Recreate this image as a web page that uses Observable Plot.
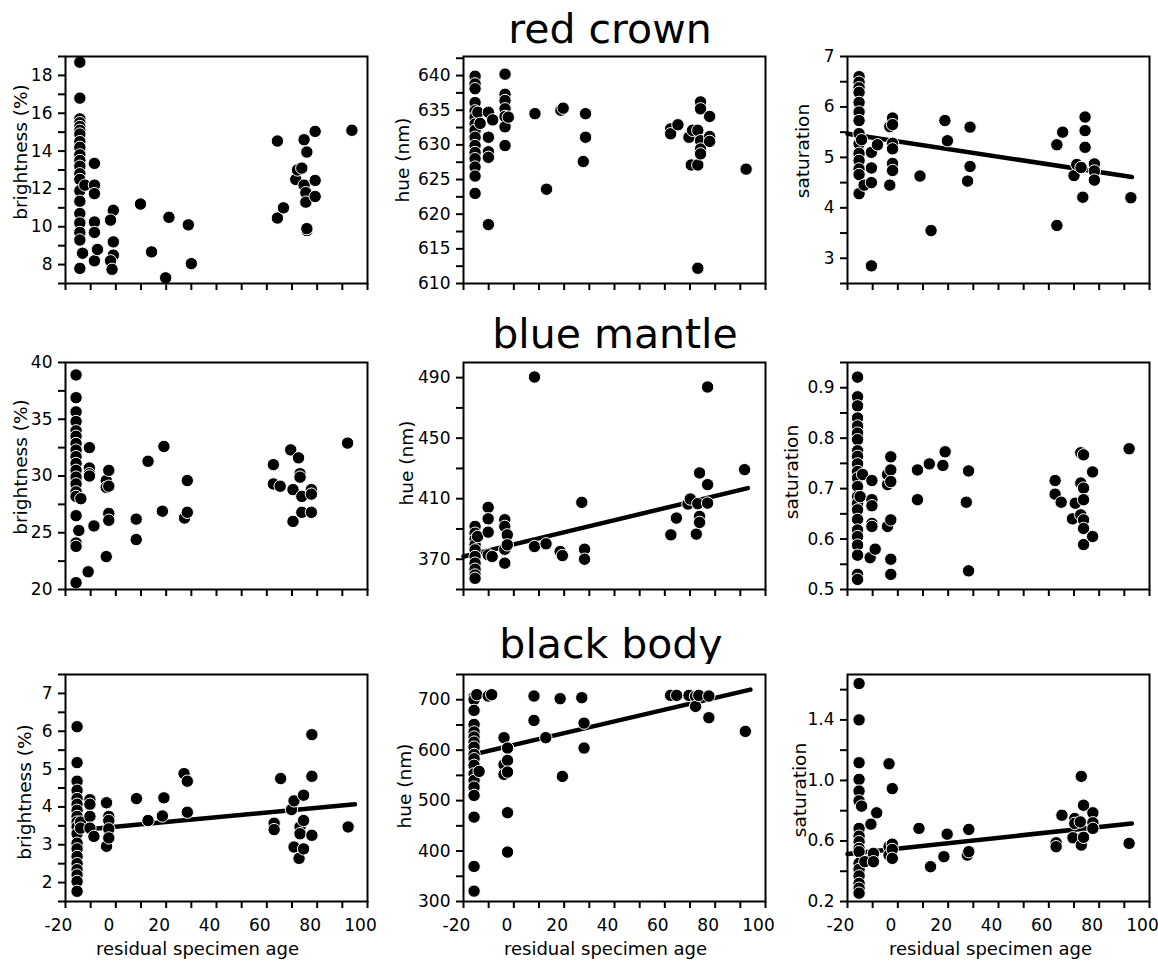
<!DOCTYPE html>
<html>
<head>
<meta charset="utf-8">
<script src="https://cdn.jsdelivr.net/npm/d3@7"></script>
<script src="https://cdn.jsdelivr.net/npm/@observablehq/plot@0.6"></script>
<style>
  html, body { margin: 0; padding: 0; background: #fff; }
  #root { position: relative; width: 1158px; height: 966px; font-family: "DejaVu Sans", Verdana, sans-serif; color: #000; }
  .title { position: absolute; width: 400px; text-align: center; font-size: 41px; line-height: 41px; white-space: nowrap; }
  .panel { position: absolute; }
</style>
</head>
<body>
<div id="root"></div>
<script>
// ---------- shared x axis (residual specimen age) ----------
const ageTicks = [-20, -10, 0, 10, 20, 30, 40, 50, 60, 70, 80, 90, 100];
const ageTickLabels = [-20, 0, 20, 40, 60, 80, 100];
const xTitle = "residual specimen age";
const rowTitles = ["red crown", "blue mantle", "black body"];
const yTitles = ["brightness (%)", "hue (nm)", "saturation"];

// ---------- red crown : [age, value] ----------
const crownBrightness = [
  [-14.3,18.7],[-14.3,16.8],[-14.3,15.7],[-14.3,15.5],[-14.3,15.3],[-14.3,15.1],[-14.3,14.9],[-14.3,14.5],[-14.3,14.2],[-14.3,13.8],
  [-14.3,13.5],[-14.3,13.2],[-14.3,12.8],[-14.3,12.5],[-14.3,11.9],[-14.3,11.35],[-14.3,10.7],[-14.3,10.2],[-14.3,9.7],[-14.3,9.3],[-14.3,7.8],
  [-12.3,12.2],[-13.2,8.6],
  [-8.5,13.35],[-8.5,12.2],[-8.5,11.75],[-8.5,10.25],[-8.5,9.7],[-8.5,8.2],[-7.3,8.8],
  [-1.0,10.87],[-2.1,10.35],[-1.0,9.2],[-1.0,8.5],[-2.1,8.2],[-1.5,7.75],
  [9.8,11.2],[14.2,8.67],[19.8,7.3],[21.1,10.5],[28.8,10.1],[30.0,8.05],
  [64.2,14.53],[64.2,10.46],[66.6,11.0],[71.5,12.5],[72.2,13.0],[73.9,13.1],[74.8,14.6],[74.8,12.2],
  [75.5,11.8],[75.5,11.3],[75.9,13.95],[75.9,9.8],[75.9,9.9],[79.2,15.04],[79.2,12.45],[79.2,11.6],[93.8,15.1]
];
const crownHue = [
  [-15.4,639.9],[-15.4,638.8],[-15.4,638.1],[-15.4,636.1],[-15.4,634.9],[-15.4,634.0],[-15.4,633.0],[-15.4,632.1],[-15.4,631.1],
  [-15.4,629.9],[-15.4,628.9],[-15.4,628.0],[-15.4,626.8],[-15.4,625.5],[-15.4,623.0],
  [-14.3,634.7],[-13.4,633.1],
  [-10.1,634.7],[-10.1,631.1],[-10.1,629.0],[-10.1,628.2],[-10.1,618.5],[-8.4,633.6],
  [-3.5,640.2],[-3.5,637.3],[-3.5,636.4],[-3.5,635.2],[-3.5,634.1],[-3.5,632.6],[-3.5,629.9],[-2.2,634.0],
  [8.4,634.5],[13.0,623.6],[18.7,635.0],[19.6,635.3],[27.6,627.6],[28.5,634.5],[28.5,631.1],
  [62.3,632.3],[62.3,631.6],[65.2,632.9],[69.6,631.1],[71.0,632.1],[70.5,627.1],[73.1,632.1],[73.1,627.1],[73.1,612.2],
  [74.2,636.2],[74.2,635.2],[74.2,630.6],[74.2,629.4],[74.2,628.7],[77.8,634.1],[77.8,631.2],[77.8,630.5],[92.3,626.5]
];
const crownSaturation = [
  [-15.4,6.6],[-15.4,6.49],[-15.4,6.38],[-15.4,6.29],[-15.4,6.09],[-15.4,5.9],[-15.4,5.73],[-15.4,5.47],[-15.4,5.27],
  [-15.4,5.08],[-15.4,4.94],[-15.4,4.77],[-15.4,4.66],[-15.4,4.28],
  [-14.4,5.35],[-13.4,4.45],
  [-10.5,5.1],[-10.5,4.79],[-10.5,4.5],[-10.5,2.85],[-8.1,5.25],
  [-3.2,5.61],[-3.2,4.45],[-2.1,5.78],[-2.1,5.65],[-2.1,5.28],[-2.1,5.17],[-2.1,4.88],[-2.1,4.74],
  [8.8,4.63],[13.2,3.55],[18.7,5.73],[19.7,5.33],[27.7,4.53],[28.7,5.6],[28.7,4.82],
  [63.2,5.25],[63.2,3.65],[65.5,5.5],[70.0,4.64],[71.1,4.86],[72.8,4.8],[73.5,4.21],[74.4,5.8],[74.4,5.53],[74.4,5.2],
  [78.1,4.87],[78.1,4.73],[78.1,4.55],[92.6,4.2]
];
const crownSaturationFit = [[-20, 5.47], [93, 4.61]];

// ---------- blue mantle : [age, value] ----------
const mantleBrightness = [
  [-15.8,38.9],[-15.8,36.9],[-15.8,35.65],[-15.8,34.8],[-15.8,33.98],[-15.8,33.5],[-15.8,32.86],[-15.8,32.28],[-15.8,31.7],
  [-15.8,31.1],[-15.8,30.5],[-15.8,29.9],[-15.8,29.3],[-15.8,28.6],[-15.8,28.2],[-15.8,26.5],[-15.8,24.1],[-15.8,23.8],[-15.8,20.6],
  [-14.7,25.2],[-13.9,28.0],
  [-10.5,32.5],[-10.5,30.7],[-10.5,30.2],[-10.5,30.0],[-11.0,21.56],[-8.7,25.6],
  [-3.8,22.9],[-3.8,29.6],[-3.8,29.0],[-2.8,30.5],[-2.8,29.1],[-2.8,26.7],[-2.8,26.1],
  [8.1,26.2],[8.1,24.4],[12.8,31.3],[18.5,26.9],[19.1,32.6],[27.3,26.3],[28.4,29.6],[28.4,26.8],
  [62.6,31.0],[62.6,29.3],[65.3,29.1],[69.5,32.3],[70.4,28.8],[70.4,26.0],[72.6,31.6],[73.2,30.2],[73.2,29.9],
  [73.9,28.2],[73.9,26.8],[77.7,28.8],[77.7,28.4],[77.7,26.8],[92.1,32.9]
];
const mantleHue = [
  [-15.4,391.7],[-15.4,387.2],[-15.4,383.3],[-15.4,379.5],[-15.4,376.2],[-15.4,371.8],[-15.4,367.4],[-15.4,363.4],[-15.4,359.6],[-15.4,357.4],
  [-14.4,385.0],
  [-10.2,404.3],[-10.2,396.7],[-10.2,387.9],[-10.2,372.9],[-8.6,371.8],
  [-3.6,396.1],[-3.6,391.7],[-3.6,376.6],[-3.6,367.4],[-2.6,386.1],[-2.6,379.5],
  [8.2,490.4],[8.2,378.4],[12.8,380.2],[18.4,375.1],[19.3,372.4],[27.0,407.6],[28.1,376.6],[28.1,370.0],
  [62.4,386.1],[64.6,397.2],[69.2,406.5],[70.1,409.8],[72.5,386.6],[73.1,406.7],[73.8,427.0],[73.8,398.3],[73.8,394.3],
  [77.0,483.8],[77.0,419.3],[77.0,407.1],[91.7,429.2]
];
const mantleHueFit = [[-20, 371.8], [93, 417.0]];
const mantleSaturation = [
  [-16,0.921],[-16,0.882],[-16,0.864],[-16,0.84],[-16,0.824],[-16,0.81],[-16,0.797],[-16,0.775],[-16,0.764],[-16,0.749],
  [-16,0.734],[-16,0.721],[-16,0.704],[-16,0.684],[-16,0.671],[-16,0.658],[-16,0.639],[-16,0.618],[-16,0.605],[-16,0.588],
  [-16,0.568],[-16,0.53],[-16,0.52],
  [-14,0.728],[-15,0.684],[-11,0.563],[-10.3,0.716],[-10.3,0.678],[-10.3,0.666],[-10.3,0.631],[-10.3,0.625],[-9,0.58],
  [-4.1,0.708],[-4.1,0.728],[-4.1,0.625],[-2.8,0.763],[-2.8,0.737],[-2.8,0.714],[-2.8,0.638],[-2.8,0.56],[-2.8,0.53],
  [7.8,0.737],[7.8,0.678],[12.5,0.749],[17.9,0.746],[18.8,0.773],[27.2,0.673],[28.1,0.735],[28.1,0.537],
  [62.5,0.716],[62.5,0.689],[64.9,0.673],[69.4,0.64],[70.5,0.671],[72.7,0.771],[72.7,0.711],[72.7,0.648],
  [73.8,0.767],[73.8,0.701],[73.8,0.678],[73.8,0.638],[73.8,0.621],[73.8,0.589],[77.4,0.733],[77.4,0.605],[91.9,0.779]
];

// ---------- black body : [age, value] ----------
const bodyBrightness = [
  [-15.4,6.12],[-15.4,5.17],[-15.4,4.68],[-15.4,4.44],[-15.4,4.22],[-15.4,4.07],[-15.4,3.91],[-15.4,3.75],[-15.4,3.6],[-15.4,3.47],
  [-15.4,3.29],[-15.4,3.04],[-15.4,2.89],[-15.4,2.69],[-15.4,2.5],[-15.4,2.34],[-15.4,2.2],[-15.4,2.03],[-15.4,1.77],
  [-14,3.6],[-14,3.44],[-10.3,4.19],[-10.3,4.07],[-10.3,3.75],[-10.3,3.44],[-8.7,3.22],
  [-3.7,4.11],[-3.7,2.96],[-2.8,3.75],[-2.8,3.64],[-2.8,3.42],[-2.8,3.18],
  [8.2,4.22],[12.8,3.64],[18.5,3.76],[19.1,4.24],[27.1,4.88],[28.4,4.68],[28.4,3.86],
  [62.9,3.57],[62.9,3.4],[65.5,4.75],[69.8,3.93],[70.8,4.16],[70.8,2.94],[72.8,2.64],[73.2,3.47],[73.2,3.29],
  [74.6,4.31],[74.6,3.64],[74.6,2.89],[77.9,5.91],[77.9,4.81],[77.9,3.25],[92.3,3.47]
];
const bodyBrightnessFit = [[-16, 3.375], [95, 4.07]];
const bodyHue = [
  [-15.8,705.3],[-15.8,700],[-15.8,678.9],[-15.8,651],[-15.8,636],[-15.8,626],[-15.8,616],[-15.8,606],[-15.8,591.6],
  [-15.8,583],[-15.8,570],[-15.8,553],[-15.8,540],[-15.8,526.8],[-15.8,510.3],[-15.8,467.3],[-15.8,369.5],[-15.8,320.6],
  [-14.7,710],[-13.8,557.9],[-10.2,707.3],[-8.8,710],
  [-3.9,624.7],[-3.9,571.1],[-3.9,552],[-2.5,604.2],[-2.5,579.7],[-2.5,556.6],[-2.5,476],[-2.5,398],
  [8.0,707.3],[8.0,659],[12.7,624.7],[18.4,702],[19.3,548],[27.0,704],[27.9,653.7],[27.9,604.2],
  [62.3,708.6],[64.7,708.6],[69.6,708.6],[72.2,706.6],[72.2,686.8],[73.5,708.6],[77.5,707.3],[77.5,664.3],[92.0,637.2]
];
const bodyHueFit = [[-16, 591.7], [94, 720]];
const bodySaturation = [
  [-15.4,1.64],[-15.4,1.4],[-15.4,1.117],[-15.4,1.007],[-15.4,0.93],[-15.4,0.865],[-15.4,0.683],[-15.4,0.632],[-15.4,0.595],
  [-15.4,0.551],[-15.4,0.529],[-15.4,0.452],[-15.4,0.413],[-15.4,0.369],[-15.4,0.32],[-15.4,0.288],[-15.4,0.255],
  [-14.4,0.83],[-13.1,0.463],[-10.7,0.711],[-9.7,0.518],[-9.7,0.463],[-8.4,0.786],
  [-3.5,1.11],[-3.5,0.562],[-3.5,0.507],[-2.2,0.946],[-2.2,0.579],[-2.2,0.544],[-2.2,0.485],
  [8.4,0.683],[13.0,0.43],[18.3,0.496],[19.6,0.645],[27.6,0.507],[28.2,0.676],[28.2,0.529],
  [62.9,0.588],[62.9,0.562],[65.2,0.77],[69.6,0.621],[70.3,0.748],[70.3,0.716],[72.5,0.726],[72.9,1.027],[72.9,0.573],
  [73.8,0.836],[73.8,0.624],[77.5,0.786],[77.5,0.72],[77.5,0.683],[91.9,0.584]
];
const bodySaturationFit = [[-20, 0.514], [93, 0.716]];

// ---------- y ticks & labels ----------
const crownBrightnessTicks = [7,8,9,10,11,12,13,14,15,16,17,18,19];
const crownBrightnessLabels = [8,10,12,14,16,18];
const crownHueTicks = [610,612.5,615,617.5,620,622.5,625,627.5,630,632.5,635,637.5,640,642.5];
const crownHueLabels = [610,615,620,625,630,635,640];
const crownSaturationTicks = [2.5,3,3.5,4,4.5,5,5.5,6,6.5,7];
const crownSaturationLabels = [3,4,5,6,7];
const mantleBrightnessTicks = [20,22.5,25,27.5,30,32.5,35,37.5,40];
const mantleBrightnessLabels = [20,25,30,35,40];
const mantleHueTicks = [350,370,390,410,430,450,470,490];
const mantleHueLabels = [370,410,450,490];
const mantleSaturationTicks = [0.5,0.55,0.6,0.65,0.7,0.75,0.8,0.85,0.9,0.95];
const mantleSaturationLabels = [0.5,0.6,0.7,0.8,0.9];
const bodyBrightnessTicks = [1.5,2,2.5,3,3.5,4,4.5,5,5.5,6,6.5,7,7.5];
const bodyBrightnessLabels = [2,3,4,5,6,7];
const bodyHueTicks = [300,350,400,450,500,550,600,650,700,750];
const bodyHueLabels = [300,400,500,600,700];
const bodySaturationTicks = [0.2,0.4,0.6,0.8,1.0,1.2,1.4,1.6];
const bodySaturationLabels = [0.2,0.6,1.0,1.4];

// ---------- layout ----------
const colLeft = [65, 463, 847];
const rowTop = [56, 362, 674];
const frameW = 302, frameH = 227;
const mL = 65, mR = 8, mT = 10;
const titleLayout = [{cx: 610, top: 8.6}, {cx: 615, top: 313.6}, {cx: 611, top: 623.6}];
const xTitleDx = [-19, -9, -8];

const f0 = d => String(d);
const f1 = d3.format(".1f");

const panels = [
  {data: crownBrightness, fit: null, domain: [7, 19], ticks: crownBrightnessTicks, labels: crownBrightnessLabels, fmt: f0, row: 0, col: 0, ldx: -44, ldy: -18},
  {data: crownHue, fit: null, domain: [610, 642.75], ticks: crownHueTicks, labels: crownHueLabels, fmt: f0, row: 0, col: 1, ldx: -60, ldy: -10},
  {data: crownSaturation, fit: crownSaturationFit, domain: [2.5, 7], ticks: crownSaturationTicks, labels: crownSaturationLabels, fmt: f0, row: 0, col: 2, ldx: -44, ldy: -19},
  {data: mantleBrightness, fit: null, domain: [20, 40], ticks: mantleBrightnessTicks, labels: mantleBrightnessLabels, fmt: f0, row: 1, col: 0, ldx: -44, ldy: -9},
  {data: mantleHue, fit: mantleHueFit, domain: [350, 500], ticks: mantleHueTicks, labels: mantleHueLabels, fmt: f0, row: 1, col: 1, ldx: -56, ldy: -13},
  {data: mantleSaturation, fit: null, domain: [0.5, 0.95], ticks: mantleSaturationTicks, labels: mantleSaturationLabels, fmt: f1, row: 1, col: 2, ldx: -55, ldy: -4},
  {data: bodyBrightness, fit: bodyBrightnessFit, domain: [1.5, 7.5], ticks: bodyBrightnessTicks, labels: bodyBrightnessLabels, fmt: f0, row: 2, col: 0, ldx: -40, ldy: 4},
  {data: bodyHue, fit: bodyHueFit, domain: [300, 750], ticks: bodyHueTicks, labels: bodyHueLabels, fmt: f0, row: 2, col: 1, ldx: -58, ldy: -2},
  {data: bodySaturation, fit: bodySaturationFit, domain: [0.2, 1.7], ticks: bodySaturationTicks, labels: bodySaturationLabels, fmt: f1, row: 2, col: 2, ldx: -47, ldy: 2}
];

const root = document.getElementById("root");

rowTitles.forEach((t, i) => {
  const d = document.createElement("div");
  d.className = "title";
  d.textContent = t;
  d.style.left = (titleLayout[i].cx - 200) + "px";
  d.style.top = titleLayout[i].top + "px";
  root.appendChild(d);
});

for (const p of panels) {
  const bottomRow = p.row === 2;
  const mB = bottomRow ? 64 : 20;
  const plot = Plot.plot({
    width: mL + frameW + mR,
    height: mT + frameH + mB,
    marginLeft: mL, marginRight: mR, marginTop: mT, marginBottom: mB,
    style: {fontFamily: "'DejaVu Sans', Verdana, sans-serif", color: "black", background: "white", overflow: "visible"},
    x: {domain: [-20, 100]},
    y: {domain: p.domain},
    marks: [
      // x tick marks (all panels)
      Plot.axisX({ticks: ageTicks, tickSize: 7, strokeWidth: 2, fill: "none", label: null}),
      // x tick labels (bottom row only), nudged left as in the original
      bottomRow ? Plot.axisX({ticks: ageTickLabels, tickSize: 0, tickPadding: 17, dx: -7, fontSize: 17, label: null,
        tickFormat: d => String(d)}) : null,
      Plot.axisY({ticks: p.ticks, tickSize: 7, tickPadding: 6, strokeWidth: 2, fontSize: 17, label: null,
        tickFormat: d => p.labels.includes(d) ? p.fmt(d) : ""}),
      Plot.text([yTitles[p.col]], {text: d => d, frameAnchor: "left", rotate: -90, dx: p.ldx, dy: p.ldy,
        fontSize: 18.5, lineAnchor: "middle", textAnchor: "middle", fill: "black"}),
      bottomRow ? Plot.text([xTitle], {text: d => d, frameAnchor: "bottom", dx: xTitleDx[p.col], dy: 41,
        fontSize: 18, lineAnchor: "top", textAnchor: "middle", fill: "black"}) : null,
      p.fit ? Plot.line(p.fit, {x: d => d[0], y: d => d[1], stroke: "black", strokeWidth: 4.5}) : null,
      Plot.dot(p.data, {x: d => d[0], y: d => d[1], r: 6.2, fill: "black", stroke: "white", strokeWidth: 1}),
      Plot.frame({stroke: "black", strokeWidth: 2})
    ]
  });
  plot.classList.add("panel");
  plot.style.left = (colLeft[p.col] - mL) + "px";
  plot.style.top = (rowTop[p.row] - mT) + "px";
  root.appendChild(plot);
}
</script>
</body>
</html>
